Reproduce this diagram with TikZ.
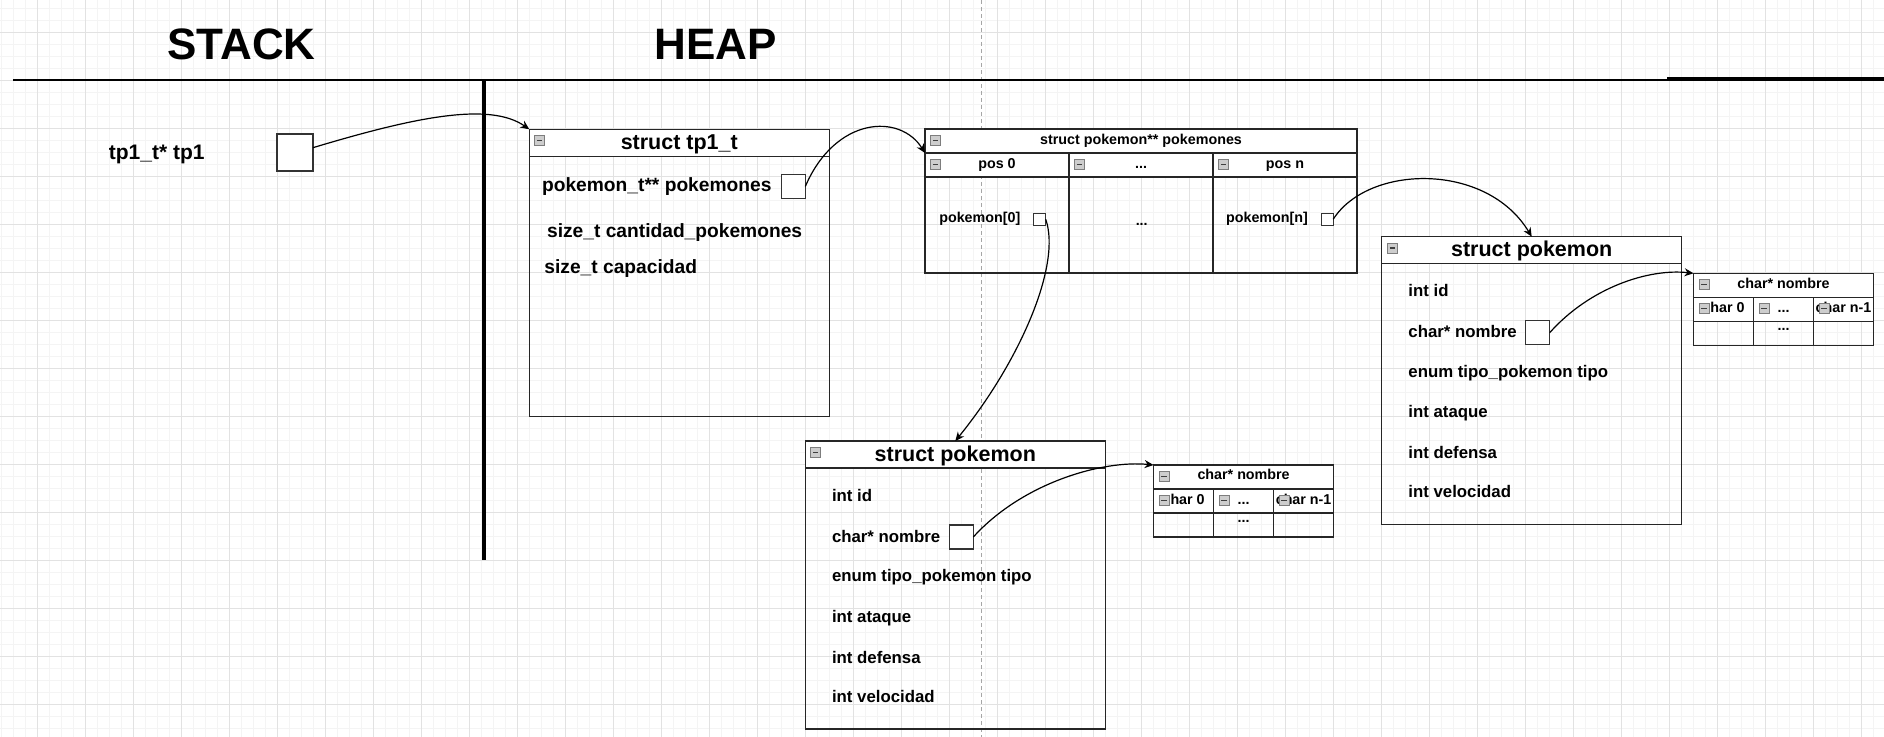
\documentclass[tikz,border=0pt]{standalone}
\usepackage{fontspec}
\setmainfont{Liberation Sans}
\usetikzlibrary{arrows.meta,calc}

\begin{document}
\begin{tikzpicture}[x=0.5pt, y=-0.5pt,
        minorgrid/.style={draw={rgb,255:red,244;green,244;blue,244}, line width=0.5pt},
        majorgrid/.style={draw={rgb,255:red,226;green,226;blue,226}, line width=0.5pt},
        structbox/.style={draw=black!85, line width=0.7pt, anchor=north west, inner sep=0pt, outer sep=0pt, minimum width=150pt},
        hdrrow/.style={structbox, fill=white, minimum height=13.5pt},
        tblbox/.style={draw=black!85, line width=0.7pt, anchor=north west, inner sep=0pt, outer sep=0pt},
        tblrow/.style={tblbox, fill=white, minimum height=12pt},
        ptrbox/.style={draw=black!80, fill=white, line width=0.6pt, inner sep=0pt, outer sep=0pt, minimum size=12pt},
        mini/.style={draw={rgb,255:red,125;green,125;blue,125}, fill={rgb,255:red,205;green,205;blue,205}, line width=0.4pt,
            anchor=north west, inner sep=0pt, minimum size=5pt,
            path picture={\draw[black!75, line width=0.6pt] ([xshift=1.2pt]path picture bounding box.west) -- ([xshift=-1.2pt]path picture bounding box.east);}},
        bigfont/.style={font=\fontsize{22}{26}\selectfont\bfseries, inner sep=0pt},
        hdrfont/.style={font=\fontsize{10.75}{13}\selectfont\bfseries, inner sep=0pt},
        lblfont/.style={font=\fontsize{10.5}{12}\selectfont\bfseries, inner sep=0pt},
        tpfont/.style={font=\fontsize{9.6}{11}\selectfont\bfseries, inner sep=0pt},
        fieldfont/.style={font=\fontsize{8.4}{10}\selectfont\bfseries, inner sep=0pt},
        tblfont/.style={font=\fontsize{7.15}{8.5}\selectfont\bfseries, inner sep=0pt},
        ptr/.style={-{Stealth[length=4.5pt,width=4pt]}, line width=0.6pt},
    ]
    \useasboundingbox (0,0) rectangle (1884,737);

    %%grid
    \foreach \i in {0,...,156} \draw[minorgrid] ({1.3+12*\i},0) -- ++(0,737);
    \foreach \i in {0,...,60} \draw[minorgrid] (0,{8.3+12*\i}) -- ++(1884,0);
    \foreach \i in {0,...,38} \draw[majorgrid] ({37.3+48*\i},0) -- ++(0,737);
    \foreach \i in {0,...,14} \draw[majorgrid] (0,{32.3+48*\i}) -- ++(1884,0);
    \draw[gray!70, line width=0.5pt, dash pattern=on 2pt off 1.5pt] (981.5,0) -- (981.5,737);

    %%stack | heap
    \node[bigfont, anchor=base] (stack) at (241.5,60) {STACK};
    \node[bigfont, anchor=base] (heap) at (715.5,60) {HEAP};
    \draw[line width=1pt] (12.8,80) -- (1667,80);
    \draw[line width=2pt] (1667,79.5) -- (1884,79.5);
    \draw[line width=1.75pt] (484,80) -- (484,560);

    \node[lblfont, anchor=base west] (tplbl) at (108.5,160) {tp1\_t* tp1};
    \node[ptrbox, minimum width=18pt, minimum height=18.5pt] (tpbox) at (295,152.5) {};

    %%struct tp1_t
    \node[structbox, minimum height=143.7pt] (tpone) at (529.3,129.3) {};
    \node[hdrrow] (tpone-hd) at (tpone.north west) {};
    \node[mini] (tpone-m) at ($(tpone.north west)+(5,6)$) {};
    \node[hdrfont, anchor=base] (tpone-tt) at ($(tpone.north)+(0,20)$) {struct tp1\_t};
    \node[tpfont, anchor=base west] (tpone-f1) at (541.7,192) {pokemon\_t** pokemones};
    \node[ptrbox] (pkbox) at (793.3,186.5) {};
    \node[tpfont, anchor=base west] (tpone-f2) at (546.7,237.7) {size\_t cantidad\_pokemones};
    \node[tpfont, anchor=base west] (tpone-f3) at (544,273.1) {size\_t capacidad};

    %%array of pointers
    \node[tblbox, minimum width=216pt, minimum height=72pt] (arr) at (925,129) {};
    \node[tblrow, minimum width=216pt] (arrtitle) at (arr.north west) {};
    \node[mini] (arrtitle-m) at ($(arr.north west)+(5,6)$) {};
    \node[tblfont, anchor=base] (arrtitle-t) at ($(arr.north)+(0,15.7)$) {struct pokemon** pokemones};
    \foreach \col/\txt in {0/pos 0, 1/.{}.{}., 2/pos n} {
        \node[tblrow, minimum width=72pt] (arrhd\col) at ($(arr.north west)+(144*\col,24)$) {};
        \node[tblbox, minimum width=72pt, minimum height=48pt] (arrcol\col) at (arrhd\col.south west) {};
        \node[mini] (arrhd\col-m) at ($(arrhd\col.north west)+(5,6)$) {};
        \node[tblfont, anchor=base] (arrhd\col-t) at ($(arrhd\col.north)+(0,15.3)$) {\txt};
    }
    \node[tblfont, anchor=base east] (p0lbl) at (1020.7,223) {pokemon[0]};
    \node[ptrbox, minimum size=6pt] (p0box) at (1039.7,219.3) {};
    \node[tblfont, anchor=base] (middots) at (1141.7,226) {.{}.{}.};
    \node[tblfont, anchor=base east] (pnlbl) at (1308.3,223) {pokemon[n]};
    \node[ptrbox, minimum size=6pt] (pnbox) at (1327.2,219.3) {};

    %%struct pokemon (both)
    \foreach \nm/\sx/\sy in {spka/805.3/441, spkb/1381.7/236.7} {
        \node[structbox, minimum height=144pt] (\nm) at (\sx,\sy) {};
        \node[hdrrow] (\nm-hd) at (\nm.north west) {};
        \node[mini] (\nm-m) at ($(\nm.north west)+(5,6)$) {};
        \node[hdrfont, anchor=base] (\nm-tt) at ($(\nm.north)+(0,20)$) {struct pokemon};
        \foreach \fld/\dy [count=\idx] in {int id/60, char* nombre/101, enum tipo\_pokemon tipo/140.5, int ataque/181, int defensa/222, int velocidad/261}
            \node[fieldfont, anchor=base west] (\nm-f\idx) at ($(\nm.north west)+(26.3,\dy)$) {\fld};
        \node[ptrbox] (\nm-box) at ($(\nm.north west)+(156,96)$) {};
    }

    %%char* nombre (both)
    \foreach \nm/\sx/\sy in {cna/1153.6/465, cnb/1693.5/273.3} {
        \node[tblbox, minimum width=90pt, minimum height=36pt] (\nm) at (\sx,\sy) {};
        \node[tblrow, minimum width=90pt] (\nm-hd) at (\nm.north west) {};
        \node[tblfont, anchor=base] (\nm-tt) at ($(\nm.north)+(0,15)$) {char* nombre};
        \node[mini] (\nm-m) at ($(\nm.north west)+(5,6)$) {};
        \foreach \col/\txt in {0/char 0, 1/.{}.{}., 2/char n-1} {
            \node[tblrow, minimum width=30pt] (\nm-c\col) at ($(\nm.north west)+(60*\col,24)$) {};
            \node[tblbox, minimum width=30pt, minimum height=12pt] (\nm-b\col) at (\nm-c\col.south west) {};
            \node[tblfont, anchor=base] (\nm-t\col) at ($(\nm-c\col.north)+(0,15)$) {\txt};
            \node[mini] (\nm-m\col) at ($(\nm-c\col.north west)+(5,6)$) {};
        }
        \node[tblfont, anchor=base] (\nm-dots) at ($(\nm-b1.north)+(0,9)$) {.{}.{}.};
    }

    %%pointers
    \draw[ptr] (tpbox.15) .. controls +(100,-30) and +(-40,-28) .. (tpone.north west);
    \draw[ptr] (pkbox.east) .. controls +(30,-70) and +(-25,-40) .. (arrtitle.south west);
    \draw[ptr] (p0box.east) .. controls +(16,45) and +(65,-80) .. (spka.north);
    \draw[ptr] (spka-box.east) .. controls +(50,-55) and +(-50,-5) .. (cna.north west);
    \draw[ptr] (pnbox.east) .. controls +(35,-55) and +(-45,-75) .. (spkb.north);
    \draw[ptr] (spkb-box.east) .. controls +(40,-45) and +(-45,-5) .. (cnb.north west);
\end{tikzpicture}
\end{document}
